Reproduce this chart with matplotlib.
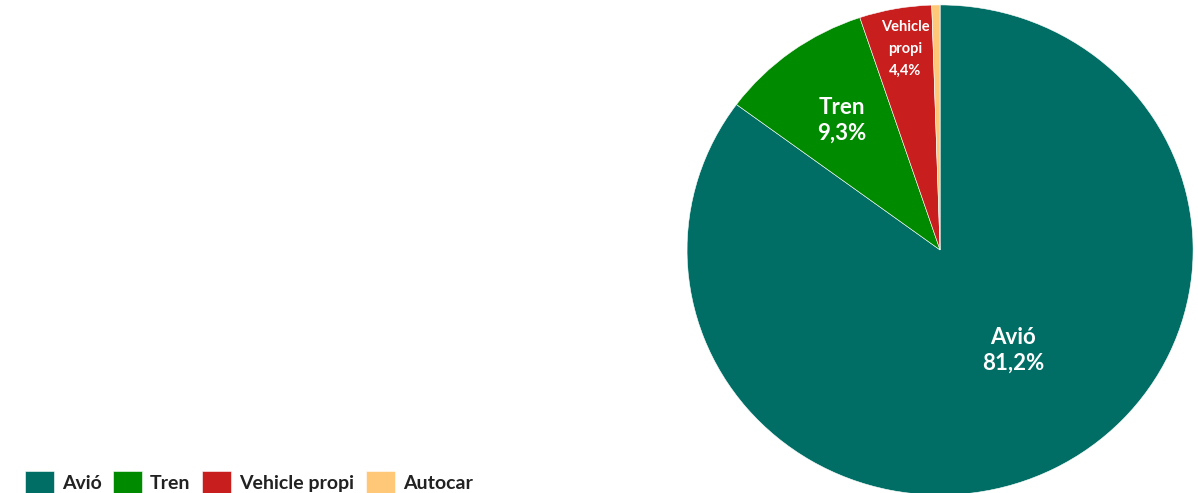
import matplotlib
matplotlib.use("Agg")
import matplotlib.pyplot as plt

# ## Data
categories = ["Avió", "Tren", "Vehicle propi", "Autocar"]
values = [81.2, 9.3, 4.4, 0.5]
slice_labels = ["Avió\n81,2%", "Tren\n9,3%", "Vehicle\npropi\n4,4%", ""]
colors = ["#006E64", "#008A00", "#C81E1E", "#FFC878"]

plt.rcParams["font.family"] = ["Lato", "DejaVu Sans"]

fig = plt.figure(figsize=(11.98, 4.93), dpi=100)
ax = fig.add_axes([0.5735, -0.004, 0.4224, 0.994])

wedges, _ = ax.pie(values, colors=colors, startangle=90, counterclock=False,
                   radius=1, wedgeprops=dict(edgecolor="white", linewidth=0.4))
ax.set_aspect("auto")
ax.set_xlim(-1, 1)
ax.set_ylim(-1, 1)

# slice labels (positions in data coordinates of the pie)
label_pos = [(0.29, -0.41), (-0.39, 0.53), (-0.138, 0.82)]
label_size = [16, 16, 10.5]
label_spacing = [1.25, 1.25, 1.75]
for txt, (x, y), fs, ls in zip(slice_labels, label_pos, label_size, label_spacing):
    ax.text(x, y, txt, ha="center", va="center", color="white",
            fontsize=fs, fontweight="bold", linespacing=ls)

fig.legend(wedges, categories, loc="lower left", bbox_to_anchor=(0.006, -0.037),
           ncol=4, frameon=False, prop={"size": 14, "weight": "bold"},
           labelcolor="#222222", handlelength=1.5, handleheight=1.45,
           handletextpad=0.4, columnspacing=0.6)

fig.savefig("out.png", dpi=100)
